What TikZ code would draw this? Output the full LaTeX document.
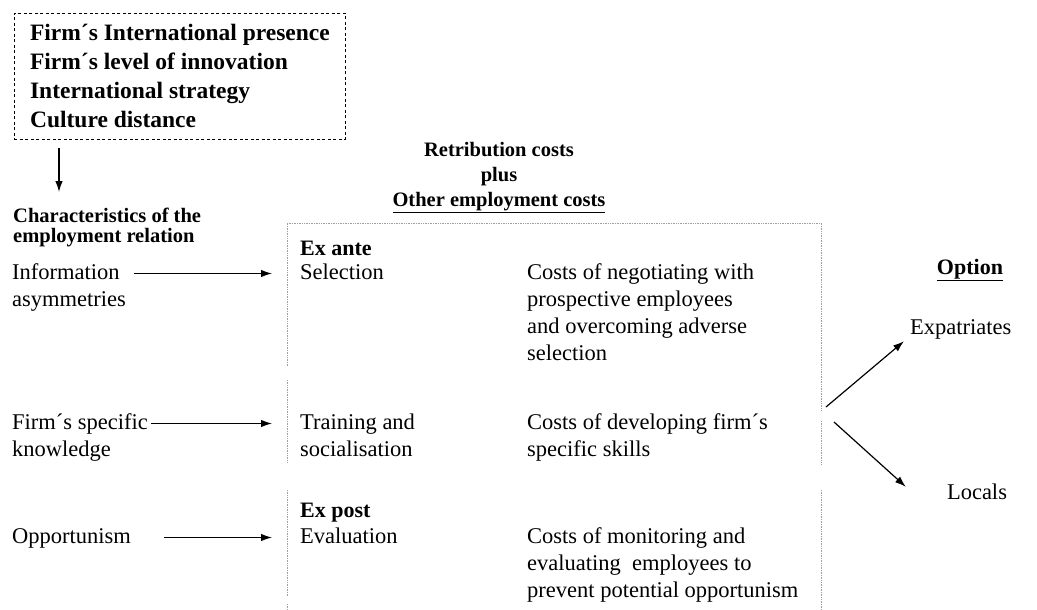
\documentclass[tikz,border=0pt]{standalone}
\usepackage{fontspec}
\setmainfont{Liberation Serif}
\usetikzlibrary{positioning,arrows.meta}

\tikzset{
  txt/.style={anchor=base west, inner sep=0pt, align=left,
    font=\fontsize{22.5}{27}\selectfont},
  lbl/.style={txt, text height=16pt, text depth=5pt},
  hd/.style={txt, font=\fontsize{22}{27}\selectfont\bfseries},
  smallhd/.style={inner sep=0pt, font=\fontsize{20.5}{25}\selectfont\bfseries},
  factbox/.style={draw, dash pattern=on 3pt off 2.5pt, line width=0.9pt,
    anchor=north west, minimum width=331pt, minimum height=126pt,
    align=left, inner sep=0pt, font=\fontsize{23.5}{29}\selectfont\bfseries},
  arr/.style={-{Latex[length=11pt,width=7.5pt]}, line width=1.2pt},
  frame/.style={draw=gray!75, line width=0.7pt, densely dotted},
}

\begin{document}
\begin{tikzpicture}[x=1pt, y=-1pt]
  \useasboundingbox (0,0) rectangle (1037,610);

  % determinants
  \node[factbox] (factors) at (14,13)
    {Firm´s International presence\\Firm´s level of innovation\\International strategy\\Culture distance};
  \node[smallhd, anchor=north west, align=left, font=\fontsize{20.5}{20}\selectfont\bfseries] (chars) at (13,208)
    {Characteristics of the\\employment relation};
  \draw[arr] ([shift={(45,8)}]factors.south west) -- ([shift={(46,-16)}]chars.north west);

  % base of a multi-line node = its last line
  \node[smallhd, anchor=base, align=center] (costs) at (499,206)
    {Retribution costs\\plus\\\underline{Other employment costs}};

  % table frame
  \draw[frame] (287,366) -- (287,223) -- (821,223) -- (821,411);
  \draw[frame] (287,380) -- (287,462);
  \draw[frame] (287,490) -- (287,596);
  \draw[frame] (287,604) -- (287,610);
  \draw[frame] (821,421) -- (821,465);
  \draw[frame] (821,490) -- (821,610);

  % ex ante
  \node[hd] (exante) at (300,255) {Ex ante};
  \node[lbl] (info) at (12,279) {Information};
  \node[lbl] (asym) at (12,306) {asymmetries};
  \node[lbl] (sel) at (300,279) {Selection};
  \node[txt] (negot) at (527,360)
    {Costs of negotiating with\\prospective employees\\and overcoming adverse\\selection};
  \draw[arr, shorten <=14pt, shorten >=28pt] (info) -- (sel);

  \node[lbl] (know) at (12,429) {Firm´s specific};
  \node[lbl] (know2) at (12,456) {knowledge};
  \node[lbl] (train) at (300,429) {Training and};
  \node[lbl] (train2) at (300,456) {socialisation};
  \node[txt] (skills) at (527,456) {Costs of developing firm´s\\specific skills};
  \draw[arr, shorten <=3pt, shorten >=28pt] (know) -- (train);

  % ex post
  \node[hd] (expost) at (300,517) {Ex post};
  \node[lbl] (opport) at (12,543) {Opportunism};
  \node[lbl] (evalu) at (300,543) {Evaluation};
  \node[txt] (monit) at (527,597)
    {Costs of monitoring and\\evaluating\ \ employees to\\prevent potential opportunism};
  \draw[arr, shorten <=33pt, shorten >=28pt] (opport) -- (evalu);

  % choice
  \node[hd, anchor=base] (option) at (970,274) {\underline{Option}};
  \node[lbl, anchor=base west] (expat) at (910,334) {Expatriates};
  \node[lbl, anchor=base] (locals) at (977,499) {Locals};
  \coordinate (outA) at (826,407);
  \coordinate (outB) at (834,422);
  \draw[arr] (outA) -- ([shift={(-6,2)}]expat.south west);
  \draw[arr] (outB) -- ([shift={(-41,4)}]locals.north west);
\end{tikzpicture}
\end{document}
